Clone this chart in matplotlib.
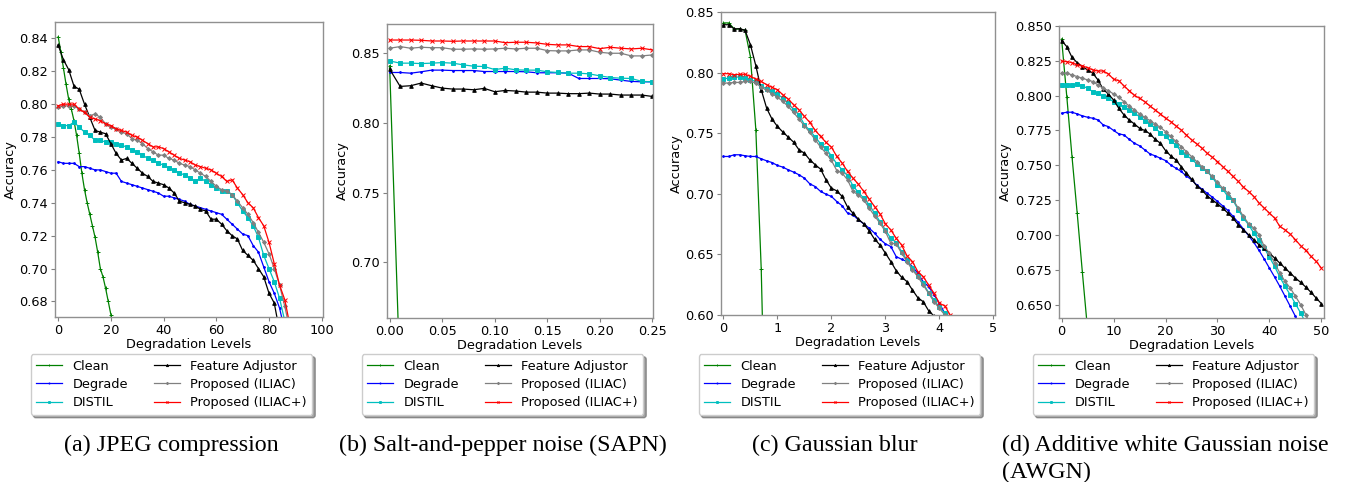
import matplotlib
matplotlib.use("Agg")
import matplotlib.pyplot as plt
from matplotlib.ticker import FormatStrFormatter

# ---------------- data ----------------
labels = ["Clean", "Degrade", "DISTIL", "Feature Adjustor", "Proposed (ILIAC)", "Proposed (ILIAC+)"]
colors = ["green", "blue", "c", "black", "gray", "red"]
markers = ["+", ".", "s", "^", "D", "x"]

# (a) JPEG compression
a_clean_x = list(range(0, 22))
a_clean = [0.841, 0.832, 0.822, 0.812, 0.803, 0.797, 0.790, 0.781, 0.770, 0.758, 0.748,
           0.740, 0.733, 0.726, 0.719, 0.710, 0.700, 0.695, 0.688, 0.680, 0.672, 0.662]
a_x = list(range(0, 90, 2))
a_degrade = [0.765, 0.764, 0.764, 0.764, 0.762, 0.762, 0.761, 0.760, 0.760, 0.759, 0.758,
             0.758, 0.753, 0.752, 0.751, 0.750, 0.749, 0.748, 0.747, 0.746, 0.744, 0.744,
             0.743, 0.742, 0.741, 0.739, 0.738, 0.737, 0.736, 0.735, 0.734, 0.733, 0.730,
             0.727, 0.724, 0.721, 0.720, 0.714, 0.710, 0.701, 0.692, 0.685, 0.676, 0.662]
a_distil = [0.788, 0.787, 0.787, 0.789, 0.786, 0.783, 0.781, 0.778, 0.778, 0.777, 0.777,
            0.776, 0.775, 0.774, 0.772, 0.771, 0.769, 0.767, 0.766, 0.764, 0.763, 0.761,
            0.760, 0.758, 0.757, 0.755, 0.753, 0.755, 0.753, 0.751, 0.749, 0.747, 0.747,
            0.745, 0.740, 0.735, 0.731, 0.726, 0.719, 0.708, 0.700, 0.692, 0.682, 0.668]
a_fa = [0.836, 0.827, 0.821, 0.811, 0.809, 0.800, 0.792, 0.784, 0.783, 0.782, 0.776,
        0.770, 0.766, 0.767, 0.764, 0.761, 0.758, 0.756, 0.753, 0.752, 0.751, 0.749,
        0.746, 0.741, 0.740, 0.739, 0.738, 0.736, 0.735, 0.730, 0.730, 0.727, 0.723,
        0.720, 0.718, 0.711, 0.708, 0.705, 0.700, 0.695, 0.685, 0.679, 0.662]
a_iliac = [0.798, 0.799, 0.799, 0.799, 0.797, 0.795, 0.793, 0.794, 0.792, 0.788, 0.786,
           0.785, 0.783, 0.782, 0.779, 0.778, 0.776, 0.773, 0.771, 0.769, 0.769, 0.767,
           0.766, 0.764, 0.763, 0.762, 0.760, 0.758, 0.756, 0.753, 0.750, 0.748, 0.747,
           0.745, 0.741, 0.737, 0.733, 0.728, 0.722, 0.716, 0.709, 0.700, 0.690, 0.677, 0.662]
a_iliacp = [0.799, 0.800, 0.800, 0.800, 0.797, 0.795, 0.792, 0.791, 0.790, 0.788, 0.787,
            0.785, 0.784, 0.783, 0.781, 0.780, 0.778, 0.776, 0.774, 0.774, 0.773, 0.771,
            0.769, 0.767, 0.766, 0.765, 0.763, 0.762, 0.761, 0.760, 0.758, 0.756, 0.753,
            0.754, 0.749, 0.745, 0.740, 0.737, 0.731, 0.726, 0.716, 0.703, 0.690, 0.681, 0.665]

# (b) Salt-and-pepper noise
b_x = [round(0.01 * i, 2) for i in range(26)]
b_clean_x = [0.00, 0.01, 0.02]
b_clean = [0.841, 0.614, 0.40]
b_degrade = [0.8362, 0.8362, 0.8357, 0.8367, 0.8379, 0.8379, 0.8376, 0.8376, 0.8376, 0.8369,
             0.8369, 0.8369, 0.8369, 0.8367, 0.8360, 0.8360, 0.8360, 0.8357, 0.8319, 0.8319,
             0.8319, 0.8317, 0.8307, 0.8298, 0.8295, 0.8295]
b_distil = [0.8445, 0.8429, 0.8429, 0.8426, 0.8429, 0.8433, 0.8429, 0.8417, 0.8407, 0.8405,
            0.8383, 0.8393, 0.8381, 0.8379, 0.8379, 0.8367, 0.8362, 0.8357, 0.8357, 0.8352,
            0.8338, 0.8326, 0.8321, 0.8319, 0.8298, 0.8295]
b_fa = [0.8386, 0.8262, 0.8267, 0.8286, 0.8267, 0.8250, 0.8243, 0.8243, 0.8238, 0.8248,
        0.8224, 0.8233, 0.8229, 0.8221, 0.8221, 0.8214, 0.8214, 0.8210, 0.8210, 0.8214,
        0.8207, 0.8207, 0.8200, 0.8200, 0.8200, 0.8190]
b_iliac = [0.8536, 0.8548, 0.8536, 0.8543, 0.8540, 0.8540, 0.8529, 0.8529, 0.8531, 0.8529,
           0.8531, 0.8536, 0.8531, 0.8536, 0.8536, 0.8519, 0.8517, 0.8517, 0.8524, 0.8524,
           0.8507, 0.8500, 0.8500, 0.8481, 0.8481, 0.8488]
b_iliacp = [0.8595, 0.8595, 0.8595, 0.8593, 0.8588, 0.8588, 0.8586, 0.8588, 0.8588, 0.8588,
            0.8588, 0.8576, 0.8579, 0.8579, 0.8574, 0.8564, 0.8560, 0.8560, 0.8548, 0.8548,
            0.8533, 0.8543, 0.8536, 0.8531, 0.8536, 0.8524]

# (c) Gaussian blur
c_clean_x = [0.0, 0.1, 0.2, 0.3, 0.4, 0.5, 0.6, 0.7, 0.8]
c_clean = [0.841, 0.841, 0.836, 0.836, 0.835, 0.813, 0.753, 0.638, 0.45]
c_x = [round(0.1 * i, 1) for i in range(43)]
c_degrade = [0.7308, 0.7308, 0.7322, 0.7322, 0.7314, 0.7308, 0.7308, 0.7289, 0.7272, 0.7258,
             0.7234, 0.7220, 0.7198, 0.7179, 0.7157, 0.7129, 0.7082, 0.7060, 0.7019, 0.6997,
             0.6978, 0.6936, 0.6901, 0.6840, 0.6826, 0.6785, 0.6752, 0.6716, 0.6675, 0.6625,
             0.6587, 0.6565, 0.6482, 0.6460, 0.6441, 0.6400, 0.6344, 0.6276, 0.6234, 0.6166,
             0.6097, 0.6014, 0.5930]
c_distil = [0.7947, 0.7955, 0.7963, 0.7963, 0.7952, 0.7941, 0.7927, 0.7892, 0.7864, 0.7845,
            0.7823, 0.7790, 0.7748, 0.7693, 0.7652, 0.7570, 0.7523, 0.7468, 0.7413, 0.7374,
            0.7313, 0.7247, 0.7198, 0.7148, 0.7066, 0.7011, 0.6964, 0.6909, 0.6840, 0.6771,
            0.6702, 0.6633, 0.6598, 0.6523, 0.6454, 0.6386, 0.6322, 0.6262, 0.6185, 0.6124,
            0.6064, 0.6014, 0.5940]
c_fa = [0.8395, 0.8395, 0.8360, 0.8362, 0.8349, 0.8230, 0.8057, 0.7859, 0.7707, 0.7616,
        0.7556, 0.7510, 0.7468, 0.7426, 0.7363, 0.7335, 0.7280, 0.7240, 0.7203, 0.7115,
        0.7046, 0.7024, 0.6978, 0.6890, 0.6840, 0.6790, 0.6752, 0.6694, 0.6625, 0.6578,
        0.6510, 0.6441, 0.6366, 0.6311, 0.6276, 0.6207, 0.6143, 0.6110, 0.6036, 0.5992]
c_iliac = [0.7914, 0.7914, 0.7919, 0.7919, 0.7927, 0.7927, 0.7914, 0.7880, 0.7853, 0.7826,
           0.7798, 0.7762, 0.7721, 0.7671, 0.7616, 0.7561, 0.7506, 0.7446, 0.7385, 0.7335,
           0.7275, 0.7192, 0.7170, 0.7115, 0.7019, 0.6991, 0.6950, 0.6881, 0.6818, 0.6757,
           0.6689, 0.6592, 0.6587, 0.6510, 0.6441, 0.6372, 0.6317, 0.6248, 0.6179, 0.6110,
           0.6055, 0.6000, 0.5930]
c_iliacp = [0.7991, 0.7991, 0.7982, 0.7986, 0.7986, 0.7969, 0.7947, 0.7927, 0.7900, 0.7878,
            0.7859, 0.7817, 0.7781, 0.7735, 0.7693, 0.7638, 0.7589, 0.7523, 0.7473, 0.7424,
            0.7385, 0.7308, 0.7253, 0.7184, 0.7129, 0.7079, 0.7019, 0.6956, 0.6895, 0.6834,
            0.6752, 0.6702, 0.6633, 0.6578, 0.6488, 0.6441, 0.6358, 0.6317, 0.6248, 0.6179,
            0.6097, 0.6075, 0.6000]

# (d) AWGN
d_clean_x = [0, 1, 2, 3, 4, 5]
d_clean = [0.8407, 0.7993, 0.7563, 0.7157, 0.6731, 0.632]
d_x = list(range(51))
d_degrade = [0.7874, 0.7881, 0.7881, 0.7869, 0.7855, 0.7845, 0.7838, 0.7826, 0.7790, 0.7778,
             0.7750, 0.7726, 0.7718, 0.7687, 0.7659, 0.7640, 0.7611, 0.7582, 0.7568, 0.7551,
             0.7534, 0.7503, 0.7479, 0.7456, 0.7424, 0.7396, 0.7360, 0.7329, 0.7300, 0.7272,
             0.7241, 0.7209, 0.7176, 0.7133, 0.7090, 0.7042, 0.6994, 0.6946, 0.6889, 0.6827,
             0.6762, 0.6698, 0.6631, 0.6560, 0.6488, 0.6416, 0.6340]
d_distil = [0.8077, 0.8077, 0.8077, 0.8084, 0.8070, 0.8053, 0.8029, 0.8017, 0.7998, 0.7981,
            0.7957, 0.7941, 0.7922, 0.7898, 0.7874, 0.7850, 0.7821, 0.7797, 0.7766, 0.7735,
            0.7707, 0.7671, 0.7647, 0.7599, 0.7575, 0.7544, 0.7511, 0.7479, 0.7456, 0.7415,
            0.7360, 0.7329, 0.7276, 0.7248, 0.7181, 0.7121, 0.7073, 0.7013, 0.6961, 0.6906,
            0.6841, 0.6774, 0.6698, 0.6631, 0.6571, 0.6507, 0.6440, 0.6368]
d_fa = [0.8395, 0.8352, 0.8275, 0.8237, 0.8208, 0.8185, 0.8161, 0.8113, 0.8046, 0.8012,
        0.7969, 0.7910, 0.7862, 0.7826, 0.7797, 0.7766, 0.7750, 0.7726, 0.7687, 0.7659,
        0.7606, 0.7568, 0.7539, 0.7491, 0.7444, 0.7401, 0.7353, 0.7324, 0.7281, 0.7252,
        0.7224, 0.7193, 0.7157, 0.7121, 0.7073, 0.7037, 0.7001, 0.6966, 0.6930, 0.6906,
        0.6870, 0.6834, 0.6798, 0.6762, 0.6727, 0.6691, 0.6660, 0.6626, 0.6588, 0.6547,
        0.6507]
d_iliac = [0.8165, 0.8161, 0.8149, 0.8137, 0.8125, 0.8113, 0.8101, 0.8077, 0.8053, 0.8036,
           0.8012, 0.7989, 0.7957, 0.7926, 0.7898, 0.7869, 0.7845, 0.7821, 0.7797, 0.7773,
           0.7742, 0.7707, 0.7671, 0.7635, 0.7599, 0.7563, 0.7527, 0.7491, 0.7456, 0.7420,
           0.7377, 0.7336, 0.7300, 0.7252, 0.7193, 0.7133, 0.7080, 0.7049, 0.7001, 0.6918,
           0.6870, 0.6798, 0.6727, 0.6667, 0.6619, 0.6560, 0.6500, 0.6428, 0.6350]
d_iliacp = [0.8249, 0.8244, 0.8237, 0.8220, 0.8213, 0.8201, 0.8185, 0.8177, 0.8177, 0.8156,
            0.8118, 0.8108, 0.8070, 0.8036, 0.8003, 0.7981, 0.7957, 0.7926, 0.7898, 0.7869,
            0.7838, 0.7814, 0.7783, 0.7754, 0.7718, 0.7683, 0.7654, 0.7623, 0.7587, 0.7558,
            0.7527, 0.7491, 0.7456, 0.7420, 0.7384, 0.7343, 0.7312, 0.7276, 0.7229, 0.7193,
            0.7157, 0.7121, 0.7061, 0.7037, 0.7006, 0.6966, 0.6923, 0.6889, 0.6846, 0.6810,
            0.6762]

captions = [["(a) JPEG compression"], ["(b) Salt-and-pepper noise (SAPN)"],
            ["(c) Gaussian blur"], ["(d) Additive white Gaussian noise", "(AWGN)"]]

panels = [
    dict(series=[(a_clean_x, a_clean), (a_x, a_degrade), (a_x, a_distil), (a_x, a_fa), (a_x, a_iliac), (a_x, a_iliacp)],
         xlim=(-1.2, 100.5), ylim=(0.6705, 0.85), yticks=[0.68, 0.70, 0.72, 0.74, 0.76, 0.78, 0.80, 0.82, 0.84],
         xticks=[0, 20, 40, 60, 80, 100], yfmt="%.2f", xfmt="%d",
         box=(55, 323, 22, 317), leg=171.5, cap=(171, "center")),
    dict(series=[(b_clean_x, b_clean), (b_x, b_degrade), (b_x, b_distil), (b_x, b_fa), (b_x, b_iliac), (b_x, b_iliacp)],
         xlim=(-0.0025, 0.2506), ylim=(0.66, 0.871), yticks=[0.70, 0.75, 0.80, 0.85],
         xticks=[0.0, 0.05, 0.10, 0.15, 0.20, 0.25], yfmt="%.2f", xfmt="%.2f",
         box=(387, 653, 24, 318), leg=502.5, cap=(503, "center")),
    dict(series=[(c_clean_x, c_clean), (c_x, c_degrade), (c_x, c_distil), (c_x, c_fa), (c_x, c_iliac), (c_x, c_iliacp)],
         xlim=(-0.045, 5.03), ylim=(0.60, 0.85), yticks=[0.60, 0.65, 0.70, 0.75, 0.80, 0.85],
         xticks=[0, 1, 2, 3, 4, 5], yfmt="%.2f", xfmt="%d",
         box=(721, 995, 12, 315), leg=839.5, cap=(835, "center")),
    dict(series=[(d_clean_x, d_clean), (d_x, d_degrade), (d_x, d_distil), (d_x, d_fa), (d_x, d_iliac), (d_x, d_iliacp)],
         xlim=(-0.5, 50.5), ylim=(0.6404, 0.85),
         yticks=[0.650, 0.675, 0.700, 0.725, 0.750, 0.775, 0.800, 0.825, 0.850],
         xticks=[0, 10, 20, 30, 40, 50], yfmt="%.3f", xfmt="%d",
         box=(1059, 1324, 26, 318), leg=1173.5, cap=(1002, "left")),
]

W, H = 1347, 482
plt.rcParams["font.family"] = "DejaVu Sans"
fig = plt.figure(figsize=(W / 100, H / 100), dpi=100)

msizes = [3.0, 2.5, 2.2, 2.6, 2.0, 2.6]
for i, p in enumerate(panels):
    l, r, t, b = p["box"]
    ax = fig.add_axes([l / W, 1 - b / H, (r - l) / W, (b - t) / H])
    for j, (xs, ys) in enumerate(p["series"]):
        ax.plot(xs[:len(ys)], ys, color=colors[j], marker=markers[j], markersize=msizes[j],
                linewidth=0.9, markeredgewidth=0.7, label=labels[j])
    ax.set_xlim(*p["xlim"])
    ax.set_ylim(*p["ylim"])
    ax.set_xticks(p["xticks"])
    ax.set_yticks(p["yticks"])
    ax.xaxis.set_major_formatter(FormatStrFormatter(p["xfmt"]))
    ax.yaxis.set_major_formatter(FormatStrFormatter(p["yfmt"]))
    ax.tick_params(labelsize=9.3, length=3, color="#808080", width=0.8,
                   labelcolor="black", pad=2)
    for s in ax.spines.values():
        s.set_color("#909090")
        s.set_linewidth(1.0)
    ax.set_xlabel("Degradation Levels", fontsize=9.3, labelpad=1)
    ax.set_ylabel("Accuracy", fontsize=9.3, labelpad=2)
    ax.legend(loc="upper center", bbox_to_anchor=(p["leg"] / W, 1 - 354 / H),
              bbox_transform=fig.transFigure, ncol=2, fontsize=9.3, shadow=True,
              frameon=True, handlelength=2.0, columnspacing=2.0, borderpad=0.45,
              labelspacing=0.4, markerscale=0.6, borderaxespad=0)
    cx, ha = p["cap"]
    for k, line in enumerate(captions[i]):
        fig.text(cx / W, 1 - (445 + 27 * k) / H, line, ha=ha, va="center",
                 family="Liberation Serif", fontsize=17.3)

fig.savefig("out.png", dpi=100)
